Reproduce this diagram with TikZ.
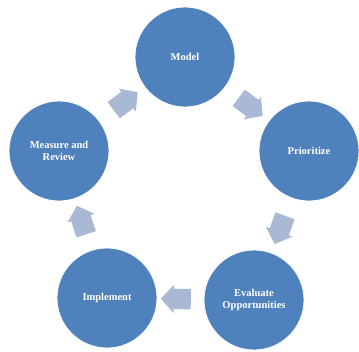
\documentclass[tikz,border=0pt]{standalone}
\usepackage{fontspec}
\setmainfont{Liberation Serif}
\usetikzlibrary{shapes.arrows}
\definecolor{stepblue}{HTML}{4F81BD}
\definecolor{arrowgray}{HTML}{A9B8D3}
\tikzset{
  stage/.style={circle, fill=stepblue, draw=white, line width=0.8pt,
    minimum size=100pt, inner sep=0pt, text=white, align=center,
    font=\fontsize{10.5}{12.5}\selectfont\bfseries},
  blockarrow/.style={single arrow, fill=arrowgray, draw=none,
    text width=0pt, text height=10pt, text depth=10pt,
    minimum height=30pt, inner sep=0pt,
    single arrow head extend=4pt, single arrow tip angle=95,
    sloped, allow upside down},
}
\begin{document}
\begin{tikzpicture}[x=1pt, y=-1pt]
  \useasboundingbox (0,0) rectangle (359,351);
  % the five stages of the cycle
  \node[stage] (model) at (185,57)  {Model};
  \node[stage] (prio)  at (309,151) {Prioritize};
  \node[stage] (eval)  at (254,300) {Evaluate\\Opportunities};
  \node[stage] (impl)  at (107,298) {Implement};
  \node[stage] (mr)    at (59,151)  {Measure and\\Review};
  % block arrows between consecutive stages
  \path (model) -- node[blockarrow] {} (prio);
  \path (prio)  -- node[blockarrow] {} (eval);
  \path (eval)  -- node[blockarrow] {} (impl);
  \path (impl)  -- node[blockarrow] {} (mr);
  \path (mr)    -- node[blockarrow] {} (model);
\end{tikzpicture}
\end{document}
